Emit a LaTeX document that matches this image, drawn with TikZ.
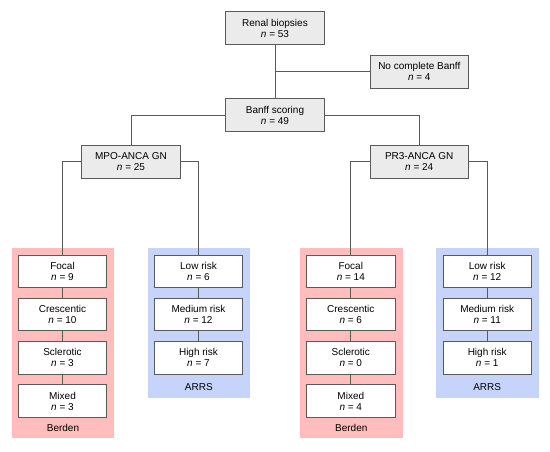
\documentclass[tikz,border=0pt]{standalone}
\usepackage{fontspec}
\setmainfont{Liberation Sans}
\definecolor{boxgray}{HTML}{EBEBEB}
\definecolor{linegray}{HTML}{5A5A5A}
\definecolor{berdenred}{HTML}{FFBDBD}
\definecolor{arrsblue}{HTML}{C6D4FC}
\begin{document}
\begin{tikzpicture}[x=1pt, y=-1pt, every node/.style={font=\fontsize{10}{11}\selectfont, align=center},
    headbox/.style={draw=linegray, fill=boxgray, line width=0.8pt, minimum width=98.5pt, minimum height=32.6pt, inner sep=0pt},
    leafbox/.style={draw=linegray, fill=white, line width=0.8pt, minimum width=88.5pt, minimum height=32.5pt, inner sep=0pt},
    groupbg/.style={inner sep=0pt, minimum width=102.6pt},
    link/.style={draw=linegray, line width=0.8pt}]
    \useasboundingbox (0,0) rectangle (550,451);
    % background groups
    \node[groupbg, fill=berdenred, minimum height=190pt] (mpoberden) at (63,343.3) {};
    \node[groupbg, fill=arrsblue, minimum height=149.4pt] (mpoarrs) at (198.8,323) {};
    \node[groupbg, fill=berdenred, minimum height=190pt] (prberden) at (351.3,343.3) {};
    \node[groupbg, fill=arrsblue, minimum height=149.4pt] (prarrs) at (487.2,323) {};
    \node (mpoberdenlbl) at (63,428.3) {Berden};
    \node (mpoarrslbl) at (198.8,386.7) {ARRS};
    \node (prberdenlbl) at (351.3,428.3) {Berden};
    \node (prarrslbl) at (487.2,386.7) {ARRS};
    % top of the tree
    \node[headbox] (renal) at (275,28) {Renal biopsies\\\textit{n} = 53};
    \node[headbox] (nocomp) at (419.3,71.8) {No complete Banff\\\textit{n} = 4};
    \node[headbox] (banff) at (275,115) {Banff scoring\\\textit{n} = 49};
    \node[headbox] (mpo) at (131,161.7) {MPO-ANCA GN\\\textit{n} = 25};
    \node[headbox] (pr3) at (419.2,161.7) {PR3-ANCA GN\\\textit{n} = 24};
    % leaves
    \foreach \lbl/\num [count=\k] in {Focal/9, Crescentic/10, Sclerotic/3, Mixed/3} {
        \pgfmathsetmacro{\ypos}{271.2 + (\k-1)*43.3}
        \node[leafbox] (mb\k) at (62.5,\ypos) {\lbl\\\textit{n} = \num};
    }
    \foreach \lbl/\num [count=\k] in {Low risk/6, Medium risk/12, High risk/7} {
        \pgfmathsetmacro{\ypos}{271.2 + (\k-1)*43.3}
        \node[leafbox] (ma\k) at (198.5,\ypos) {\lbl\\\textit{n} = \num};
    }
    \foreach \lbl/\num [count=\k] in {Focal/14, Crescentic/6, Sclerotic/0, Mixed/4} {
        \pgfmathsetmacro{\ypos}{271.2 + (\k-1)*43.3}
        \node[leafbox] (pb\k) at (350.8,\ypos) {\lbl\\\textit{n} = \num};
    }
    \foreach \lbl/\num [count=\k] in {Low risk/12, Medium risk/11, High risk/1} {
        \pgfmathsetmacro{\ypos}{271.2 + (\k-1)*43.3}
        \node[leafbox] (pa\k) at (487.2,\ypos) {\lbl\\\textit{n} = \num};
    }
    % connectors
    \draw[link] (renal) -- (banff);
    \draw[link] (renal.south) |- (nocomp.west);
    \draw[link] (banff.west) -| (mpo.north);
    \draw[link] (banff.east) -| (pr3.north);
    \draw[link] (mpo.west) -| (mb1.north);
    \draw[link] (mpo.east) -| (ma1.north);
    \draw[link] (pr3.west) -| (pb1.north);
    \draw[link] (pr3.east) -| (pa1.north);
    \foreach \k in {1,2,3} {
        \pgfmathtruncatemacro{\next}{\k + 1}
        \draw[link] (mb\k) -- (mb\next);
        \draw[link] (pb\k) -- (pb\next);
    }
    \foreach \k in {1,2} {
        \pgfmathtruncatemacro{\next}{\k + 1}
        \draw[link] (ma\k) -- (ma\next);
        \draw[link] (pa\k) -- (pa\next);
    }
\end{tikzpicture}
\end{document}
